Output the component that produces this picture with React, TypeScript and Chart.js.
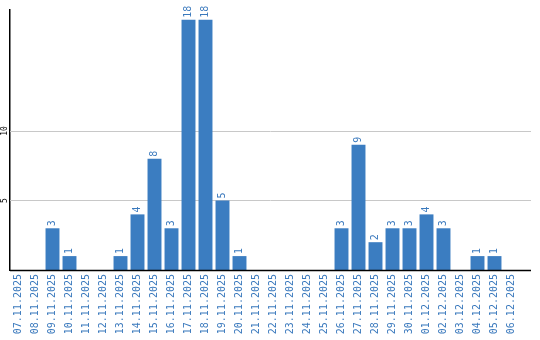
import React, { useEffect, useRef } from "react";
import { Chart, registerables } from "chart.js";

Chart.register(...registerables);

const categories: string[] = [
  "07.11.2025", "08.11.2025", "09.11.2025", "10.11.2025", "11.11.2025",
  "12.11.2025", "13.11.2025", "14.11.2025", "15.11.2025", "16.11.2025",
  "17.11.2025", "18.11.2025", "19.11.2025", "20.11.2025", "21.11.2025",
  "22.11.2025", "23.11.2025", "24.11.2025", "25.11.2025", "26.11.2025",
  "27.11.2025", "28.11.2025", "29.11.2025", "30.11.2025", "01.12.2025",
  "02.12.2025", "03.12.2025", "04.12.2025", "05.12.2025", "06.12.2025",
];

const values: number[] = [
  0, 0, 3, 1, 0,
  0, 1, 4, 8, 3,
  18, 18, 5, 1, 0,
  0, 0, 0, 0, 3,
  9, 2, 3, 3, 4,
  3, 0, 1, 1, 0,
];

const yTickValues: number[] = [5, 10];

const BAR_COLOR = "#3b7dc1";
const TEXT_COLOR = "#3a79bd";
const MONO = "'DejaVu Sans Mono', monospace";
const AXIS_RIGHT = 531;

const overlayPlugin = {
  id: "overlay",
  beforeDatasetsDraw(chart: any) {
    const ctx = chart.ctx;
    const area = chart.chartArea;
    const y = chart.scales.y;
    ctx.save();
    ctx.strokeStyle = "#c8c8c8";
    ctx.lineWidth = 1;
    yTickValues.forEach((v) => {
      const py = Math.round(y.getPixelForValue(v)) + 0.5;
      ctx.beginPath();
      ctx.moveTo(area.left, py);
      ctx.lineTo(AXIS_RIGHT, py);
      ctx.stroke();
    });
    ctx.restore();
  },
  afterDatasetsDraw(chart: any) {
    const ctx = chart.ctx;
    const meta = chart.getDatasetMeta(0);
    ctx.save();
    ctx.fillStyle = TEXT_COLOR;
    ctx.font = `10px ${MONO}`;
    ctx.textAlign = "left";
    ctx.textBaseline = "middle";
    meta.data.forEach((bar: any, i: number) => {
      const v = values[i];
      if (!v) return;
      ctx.save();
      ctx.translate(bar.x, bar.y - 2);
      ctx.rotate(-Math.PI / 2);
      ctx.fillText(String(v), 0, 0);
      ctx.restore();
    });
    ctx.restore();
  },
  afterDraw(chart: any) {
    const ctx = chart.ctx;
    const area = chart.chartArea;
    const y = chart.scales.y;
    ctx.save();
    ctx.fillStyle = "#000";
    ctx.font = `8px ${MONO}`;
    ctx.textAlign = "center";
    ctx.textBaseline = "middle";
    yTickValues.forEach((v) => {
      const py = y.getPixelForValue(v);
      ctx.save();
      ctx.translate(5, py);
      ctx.rotate(-Math.PI / 2);
      ctx.fillText(String(v), 0, 0);
      ctx.restore();
    });
    ctx.strokeStyle = "#000";
    ctx.lineWidth = 1.5;
    ctx.beginPath();
    ctx.moveTo(area.left, Math.round(area.bottom) + 0.5);
    ctx.lineTo(AXIS_RIGHT, Math.round(area.bottom) + 0.5);
    ctx.stroke();
    ctx.restore();
  },
};

export default function App() {
  const ref = useRef<HTMLCanvasElement | null>(null);

  useEffect(() => {
    document.body.style.margin = "0";
    const canvas = ref.current;
    if (!canvas) return;
    const chart = new Chart(canvas, {
      type: "bar",
      data: {
        labels: categories,
        datasets: [
          {
            data: values,
            backgroundColor: BAR_COLOR,
            borderWidth: 0,
            barPercentage: 0.82,
            categoryPercentage: 1,
          },
        ],
      },
      options: {
        responsive: false,
        animation: false,
        devicePixelRatio: 1,
        layout: { padding: { top: 10, right: 20, left: 0, bottom: 0 } },
        plugins: {
          legend: { display: false },
          tooltip: { enabled: false },
        },
        scales: {
          x: {
            grid: { display: false, drawTicks: false },
            border: { display: false },
            ticks: {
              autoSkip: false,
              maxRotation: 90,
              minRotation: 90,
              padding: 4,
              color: TEXT_COLOR,
              font: { family: MONO, size: 10 },
            },
            afterFit(scale: any) {
              scale.height = 70;
            },
          },
          y: {
            min: 0,
            max: 18.7,
            grid: { display: false, drawTicks: false },
            border: { display: true, color: "#000", width: 1.5 },
            ticks: { display: false },
            afterBuildTicks(scale: any) {
              scale.ticks = yTickValues.map((v) => ({ value: v }));
            },
            afterFit(scale: any) {
              scale.width = 10;
            },
          },
        },
      },
      plugins: [overlayPlugin],
    });
    return () => chart.destroy();
  }, []);

  return (
    <div style={{ position: "absolute", left: 0, top: 0, width: 540, height: 340 }}>
      <canvas ref={ref} width={540} height={340} />
    </div>
  );
}
